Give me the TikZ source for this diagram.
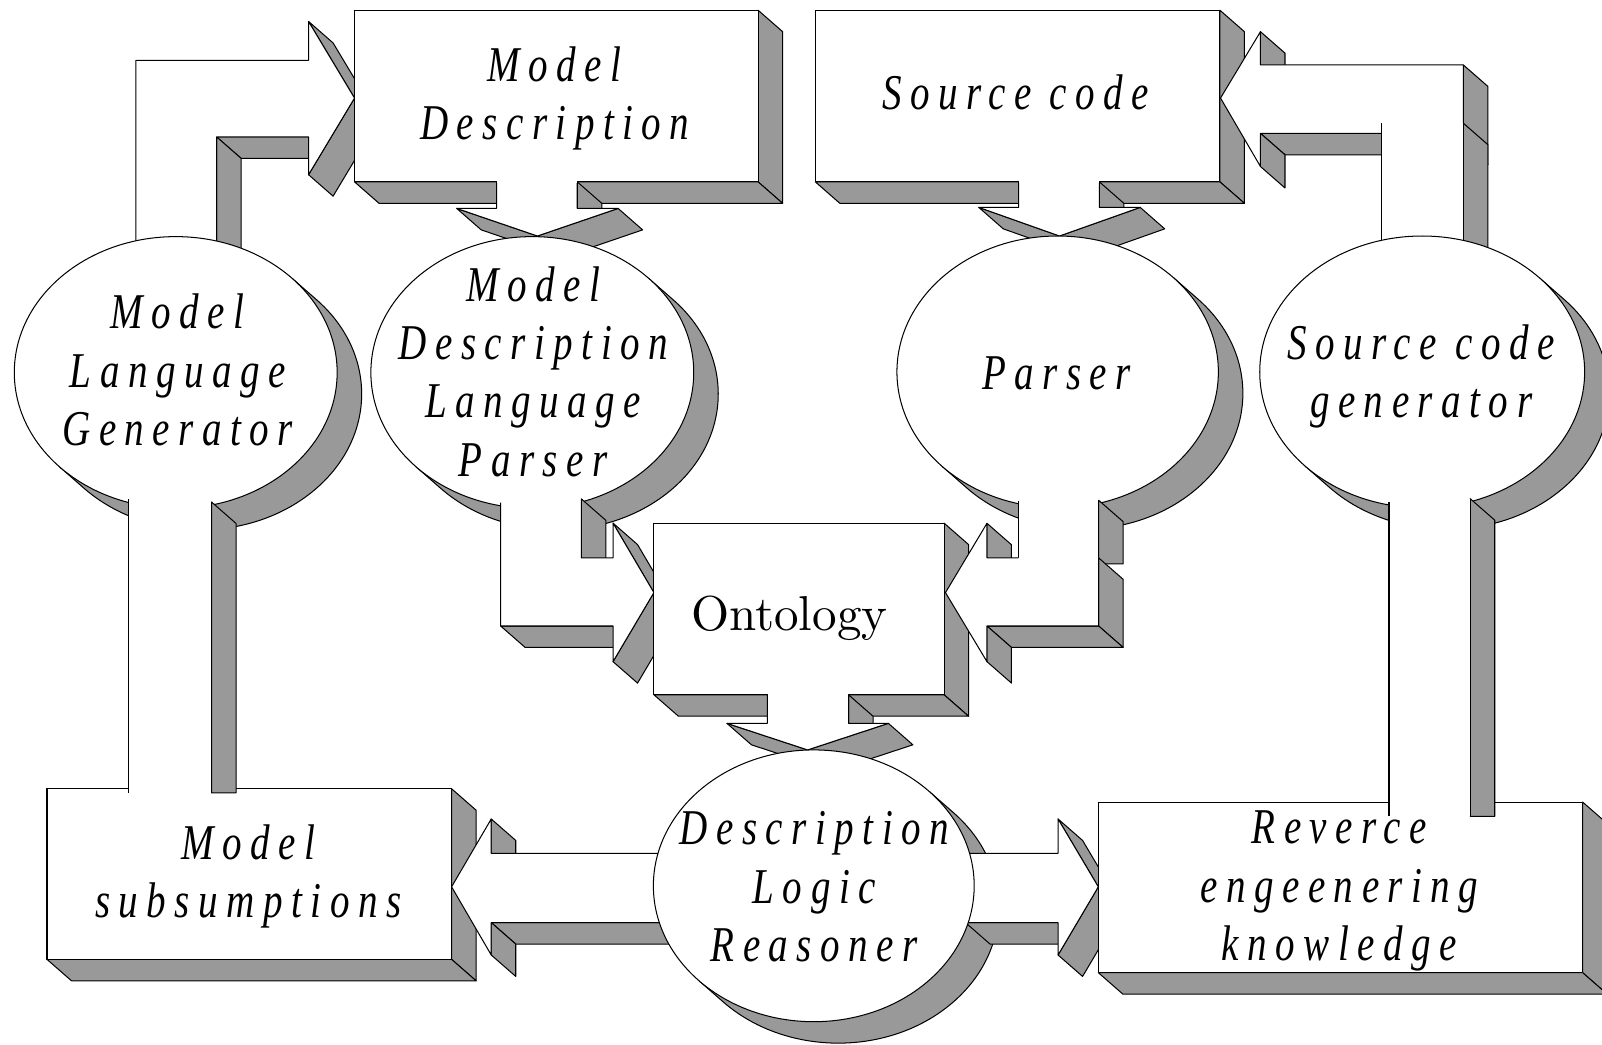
\documentclass[tikz,border=0pt]{standalone}
\usepackage{fontspec}
\newfontfamily\lblfont[LetterSpace=17,FakeStretch=0.78]{Liberation Serif}
\newfontfamily\onfont{lmroman10-regular}[Extension=.otf]
\definecolor{sidegray}{RGB}{153,153,153}
\def\ox{24}\def\oy{21}
\def\nonemark{none}
\tikzset{
  front/.style={draw=black, fill=white, line width=0.5pt, line join=round},
  sideface/.style={draw=black, fill=sidegray, line width=0.5pt, line join=round},
  edge/.style={draw=black, line width=0.5pt, line join=round},
  patch/.style={fill=white},
  lbl/.style={inner sep=0pt, anchor=base, font=\lblfont\itshape\fontsize{24.5}{28.5}\selectfont},
  rom/.style={inner sep=0pt, anchor=base, font=\onfont\fontsize{24}{28.5}\selectfont},
}
% gray side faces of an extruded polygon (points listed clockwise on screen)
% pass 1: axis-parallel edges, pass 2: slanted edges (arrow heads, in front)
\newcommand\sidefaces[1]{%
  \foreach \pass in {1,2}{%
  \foreach \x/\y [remember=\x as \px (initially none), remember=\y as \py (initially none)] in {#1}{%
    \ifx\px\nonemark\else
      \pgfmathsetmacro\dd{(\y-\py)-0.875*(\x-\px)}%
      \pgfmathsetmacro\sl{(abs(\x-\px)>0.01 && abs(\y-\py)>0.01) ? 2 : 1}%
      \ifdim\dd pt>0.01pt
        \ifdim\sl pt=\pass pt
        \filldraw[sideface] (\px,\py) -- (\x,\y) -- ++(\ox,\oy) -- ({\px+\ox},{\py+\oy}) -- cycle;
        \fi
      \fi
    \fi
  }}%
}
\newcommand\mkpath[1]{%
  \gdef\pathstr{}%
  \foreach \x/\y [count=\i] in {#1}{%
    \ifnum\i=1 \xdef\pathstr{(\x,\y)}\else\xdef\pathstr{\pathstr -- (\x,\y)}\fi}%
}
\newcommand\solid[1]{\sidefaces{#1}\mkpath{#1}%
  \edef\tmp{\noexpand\filldraw[front] \pathstr -- cycle;}\tmp}
\newcommand\solidopen[1]{\sidefaces{#1}\mkpath{#1}%
  \edef\tmp{\noexpand\fill[white] \pathstr -- cycle; \noexpand\draw[edge] \pathstr;}\tmp}
% vertical shaft: xL yLtop xR yRtop ybottom
\newcommand\vshaft[5]{%
  \filldraw[sideface] (#3,#4) -- ++(\ox,\oy) -- ({#3+\ox},#5) -- (#3,#5) -- cycle;
  \fill[white] (#1,#2) -- (#3,#4) -- (#3,#5) -- (#1,#5) -- cycle;
  \draw[edge] (#1,#2) -- (#1,#5) (#3,#4) -- (#3,#5);
}
\newcommand\ellshadow[4]{%
  \pgfmathsetmacro\ta{atan2(-\ox*#4,\oy*#3)}%
  \pgfmathsetmacro\tb{\ta+180}%
  \pgfmathsetmacro\pax{#1+#3*cos(\ta)}%
  \pgfmathsetmacro\pay{#2+#4*sin(\ta)}%
  \pgfmathsetmacro\pbx{#1+#3*cos(\tb)}%
  \pgfmathsetmacro\pby{#2+#4*sin(\tb)}%
  \filldraw[sideface] (\pax,\pay) -- ++(\ox,\oy) arc[start angle=\ta, end angle=\tb, x radius=#3, y radius=#4] -- (\pbx,\pby) -- cycle;
}
\newcommand\ellfront[4]{\filldraw[front] (#1,#2) ellipse[x radius=#3, y radius=#4];}
\begin{document}
\begin{tikzpicture}[x=0.5pt,y=-0.5pt]
\useasboundingbox (0,0) rectangle (1568,1022);
% MLG -> MD bent arrow
\solid{133/300, 133/59, 302/59, 302/21, 347/96, 302/171, 302/134, 212/134, 212/300, 133/300}
% Model Description box
\solid{347/10, 742/10, 742/178, 347/178, 347/10}
% MD -> MDLP
\solidopen{565/178, 565/204, 605/204, 526/231, 447/204, 486/204, 486/178}
\fill[patch] (486.6,176.5) rectangle (564.4,179.5);
% ellipses MLG, MDLP
\ellshadow{172}{364.6}{158}{133}\ellfront{172}{364.6}{158}{133}
\ellshadow{521}{364.6}{158}{133}\ellfront{521}{364.6}{158}{133}
% Source code box
\solid{798/10, 1194/10, 1194/178, 798/178, 798/10}
% SC -> Parser
\solidopen{1076/178, 1076/203, 1116/203, 1037/231, 958/203, 997/203, 997/178}
\fill[patch] (997.6,176.5) rectangle (1075.4,179.5);
% SCG -> SC bent arrow
\solid{1194.6/96, 1233.7/31, 1233.7/63.6, 1432.3/63.6, 1432.3/140, 1352.6/140, 1352.6/130.5, 1233.7/130.5, 1233.7/163, 1194.6/96}
\vshaft{1352.6}{120.6}{1432.3}{120.6}{300}
% Parser, SCG ellipses
\ellshadow{1035.2}{364}{157.3}{133}\ellfront{1035.2}{364}{157.3}{133}
\ellshadow{1392}{364}{159}{133}\ellfront{1392}{364}{159}{133}
% MDLP -> Ontology
\solidopen{569/488.3, 569/546, 600/546, 600/512, 640/580, 600/647.6, 600/612.7, 490/612.7, 490/492}
% Ontology box
\solid{640/512, 924/512, 924/680, 640/680, 640/512}
% Parser -> Ontology
\vshaft{996.7}{490}{1075.3}{489.6}{552}
\solidopen{1075.3/546, 1075.3/612.7, 966/612.7, 966/647.6, 925.4/580, 966/512.2, 966/546, 996.7/546}
% Model subsumptions box
\solid{46/772, 442/772, 442/939, 46/939, 46/772}
% MLG -- MS shaft
\vshaft{126}{488.8}{207}{491.3}{776}
% DLR shadow
\ellshadow{796.5}{867}{157}{133}
% DLR -> MS
\solid{442/868, 480.8/801.6, 480.8/835.2, 650/835.2, 650/903, 480.8/903, 480.8/934.7, 442/868}
% DLR -> RE
\solid{945/835.2, 1035.6/835.2, 1035.6/801.6, 1075/868, 1035.6/934.7, 1035.6/903, 945/903, 945/835.2}
% Ontology -> DLR
\solidopen{830.5/680, 830.5/708, 869.5/708, 790.5/734, 711.5/708, 751/708, 751/680}
\fill[patch] (751.6,678.5) rectangle (829.9,681.5);
% DLR front
\ellfront{796.5}{867}{157}{133}
% RE box
\solid{1075/785, 1549/785, 1549/952, 1075/952, 1075/785}
% SCG -- RE shaft
\vshaft{1359.5}{491.2}{1439}{488.1}{799}
% labels
\node[lbl] (mdtext) at (543,80) {\begin{tabular}[t]{@{}c@{}}Model\\Description\end{tabular}};
\node[lbl] (sctext) at (994,107) {Source code};
\node[lbl] (mlgtext) at (174,322) {\begin{tabular}[t]{@{}c@{}}Model\\Language\\Generator\end{tabular}};
\node[lbl] (mdlptext) at (522,295) {\begin{tabular}[t]{@{}c@{}}Model\\Description\\Language\\Parser\end{tabular}};
\node[lbl] (parsertext) at (1034,381) {Parser};
\node[lbl] (scgtext) at (1391,352) {\begin{tabular}[t]{@{}c@{}}Source code\\generator\end{tabular}};
\node[rom] (ontext) at (772.5,617) {Ontology};
\node[lbl] (mstext) at (243,841) {\begin{tabular}[t]{@{}c@{}}Model\\subsumptions\end{tabular}};
\node[lbl] (dlrtext) at (797,827) {\begin{tabular}[t]{@{}c@{}}Description\\Logic\\Reasoner\end{tabular}};
\node[lbl] (retext) at (1311,826) {\begin{tabular}[t]{@{}c@{}}Reverce\\engeenering\\knowledge\end{tabular}};
\end{tikzpicture}
\end{document}
